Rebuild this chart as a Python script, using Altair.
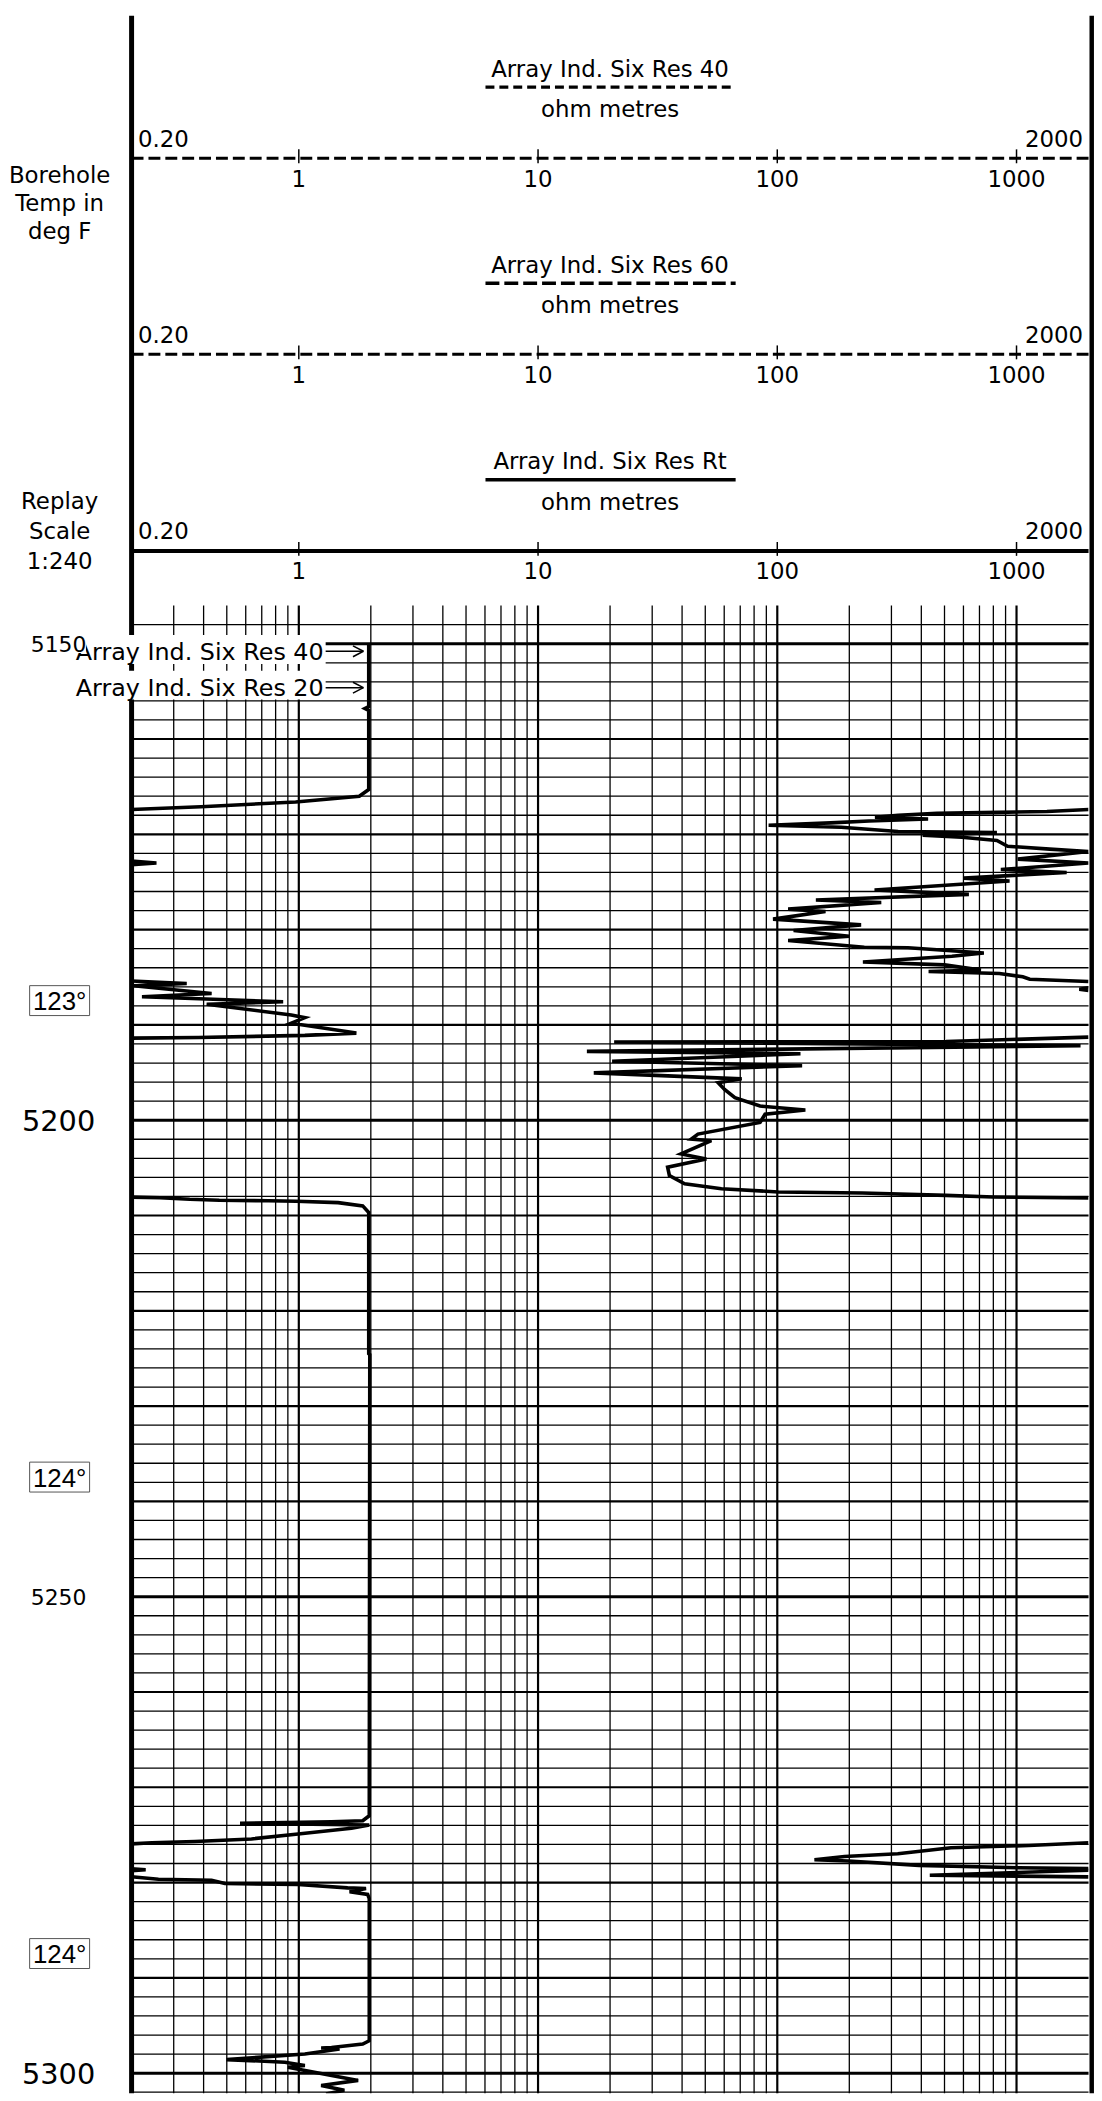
import altair as alt
import pandas as pd

FONT = "DejaVu Sans"

# ---------------- curve data: depth (ft) and resistivity (ohm m) as drawn on the 0.2-2000 track
L1_depth = [5150.0, 5156.6, 5156.8, 5157.0, 5165.3, 5166.0, 5166.6, 5167.1, 5167.4]
L1_ohm = [1.96, 1.96, 1.89, 1.96, 1.96, 1.79, 0.97, 0.39, 0.2]

R1_depth = [5167.4, 5167.6, 5167.7, 5167.8, 5168.0, 5168.2, 5168.4, 5168.6, 5168.8, 5169.05,
            5169.25, 5169.7, 5169.8, 5170.1, 5170.3, 5170.65, 5171.25, 5171.55, 5171.8, 5172.6,
            5173.0, 5173.7, 5174.0, 5174.6, 5174.9, 5175.85, 5176.3, 5176.9, 5177.15, 5177.85,
            5178.1, 5178.9, 5179.5, 5180.1, 5180.7, 5181.15, 5181.85, 5181.9, 5182.45, 5182.8,
            5183.4, 5183.7, 5184.25, 5184.4, 5184.6, 5184.95, 5185.2, 5185.45]
R1_ohm = [2000, 1340, 830, 465, 320, 256, 427, 242, 167, 92,
          185, 320, 828, 405, 590, 828, 918, 1376, 2000, 1012,
          2000, 860, 1620, 603, 935, 255, 632, 145, 272, 111,
          159, 96, 224, 117, 200, 111, 231, 352, 730, 537,
          228, 500, 710, 429, 848, 1062, 1136, 2000]

R1b_depth = [5186.1, 5186.25, 5186.4]
R1b_ohm = [2000, 1830, 2000]

L2_depth = [5172.8, 5173.0, 5173.2]
L2_ohm = [0.2, 0.254, 0.2]

L3_depth = [5185.4, 5185.66, 5185.9, 5186.7, 5187.05, 5187.57, 5187.84, 5188.96, 5189.24,
            5189.82, 5190.86, 5191.1, 5191.32, 5191.39]
L3_ohm = [0.2, 0.34, 0.204, 0.432, 0.221, 0.86, 0.412, 0.93, 1.06, 0.93, 1.74, 1.06, 0.38, 0.2]

R2_depth = [5191.28, 5191.74, 5191.8, 5192.19, 5192.78, 5193.02, 5193.82, 5194.27, 5195.03, 5195.66,
            5196.07, 5196.77, 5197.64, 5198.51, 5198.92, 5199.38, 5200.24, 5201.46, 5201.98, 5202.15,
            5203.54, 5204.06, 5204.93, 5205.8, 5206.67, 5207.19, 5207.53, 5207.64, 5207.89, 5208.05,
            5208.16]
R2_ohm = [2000, 507, 20.8, 1852, 16.0, 125, 20.4, 127, 17.1, 71,
          56.6, 60.2, 66.5, 84.7, 131, 88.9, 84.7, 46.6, 43.7, 53,
          39.6, 50.5, 34.8, 35.4, 41, 58.4, 101, 227, 507, 800,
          2000]

L4_depth = [5208.07, 5208.13, 5208.3, 5208.4, 5208.45, 5208.51, 5208.65, 5208.99, 5209.69, 5224.5,
            5224.6, 5272.99, 5273.51, 5273.61, 5273.78, 5273.96, 5274.3, 5274.9, 5275.42, 5275.7,
            5275.83, 5275.94]
L4_ohm = [0.2, 0.263, 0.35, 0.465, 0.746, 0.975, 1.46, 1.85, 1.96, 1.96,
          1.98, 1.97, 1.85, 1.37, 0.568, 1.97, 1.66, 0.993, 0.634, 0.368,
          0.243, 0.2]

R3_depth = [5275.83, 5276.11, 5276.35, 5276.98, 5277.26, 5277.6, 5277.74, 5278.2, 5278.44, 5278.54]
R3_ohm = [2000, 1125, 532, 319, 191, 143, 198, 391, 1017, 2000]

L5_depth = [5278.55, 5278.65, 5278.75]
L5_ohm = [0.2, 0.229, 0.2]

R4_depth = [5278.7, 5279.24, 5279.4]
R4_ohm = [2000, 434, 2000]

L6_depth = [5279.4, 5279.65, 5279.76, 5280.1, 5280.2, 5280.56, 5280.63, 5280.97, 5281.25, 5281.67,
            5296.6, 5296.95, 5297.3, 5297.36, 5297.47, 5297.99, 5298.58, 5298.85, 5299.2, 5299.38,
            5300.76, 5301.3, 5301.8, 5302.2]
L6_ohm = [0.2, 0.259, 0.432, 0.491, 0.993, 1.60, 1.91, 1.63, 1.94, 1.97,
          1.97, 1.85, 1.37, 1.24, 1.48, 1.06, 0.499, 0.874, 1.06, 0.90,
          1.77, 1.24, 1.55, 1.3]

segments = [("L1", L1_depth, L1_ohm), ("R1", R1_depth, R1_ohm), ("R1b", R1b_depth, R1b_ohm),
            ("L2", L2_depth, L2_ohm), ("L3", L3_depth, L3_ohm), ("R2", R2_depth, R2_ohm),
            ("L4", L4_depth, L4_ohm), ("R3", R3_depth, R3_ohm), ("L5", L5_depth, L5_ohm),
            ("R4", R4_depth, R4_ohm), ("L6", L6_depth, L6_ohm)]

# ---------------- grid / scale values
grid_minor = [0.3, 0.4, 0.5, 0.6, 0.7, 0.8, 0.9, 2, 3, 4, 5, 6, 7, 8, 9,
              20, 30, 40, 50, 60, 70, 80, 90, 200, 300, 400, 500, 600, 700, 800, 900]
grid_decade = [1, 10, 100, 1000]
grid_depths = list(range(5148, 5303, 2))
depth_labels_small = [5150, 5250]
depth_labels_big = [5200, 5300]
temp_depths = [5187.45, 5237.45, 5287.45]
temp_labels = ["123°", "124°", "124°"]
track_titles = ["Array Ind. Six Res 40", "Array Ind. Six Res 60", "Array Ind. Six Res Rt"]
tick_values = [1, 10, 100, 1000]
tick_texts = ["1", "10", "100", "1000"]

# ---------------- layout
W, H = 964, 2093
D_TOP, D_BOT, GRID_TOP = 5084.09, 5302.12, 5146.0
OFF = [0, 197.5, 395.5]

xs = alt.Scale(type="log", domain=[0.2, 2000], nice=False)
ys = alt.Scale(domain=[D_TOP, D_BOT], reverse=True, nice=False, zero=False)
one = pd.DataFrame({"k": [0]})

rows = []
for name, ds, vs in segments:
    for i, (d, v) in enumerate(zip(ds, vs)):
        rows.append({"seg": name, "ord": i, "depth": d, "ohm": v})
curve_df = pd.DataFrame(rows)

vgrid = pd.DataFrame({"ohm": grid_minor + grid_decade,
                      "w": [1.3] * len(grid_minor) + [2.2] * len(grid_decade)})
vgrid["top"] = GRID_TOP
vgrid["bot"] = D_BOT
hgrid = pd.DataFrame({"depth": grid_depths})
hgrid["w"] = [3.0 if d % 50 == 0 else (2.2 if d % 10 == 0 else 1.3) for d in grid_depths]
hgrid["x0"] = 0.2
hgrid["x1"] = 2000

layers = []
layers.append(alt.Chart(vgrid).mark_rule(color="black").encode(
    x=alt.X("ohm:Q", scale=xs, axis=None), y=alt.Y("top:Q", scale=ys, axis=None), y2="bot:Q",
    strokeWidth=alt.StrokeWidth("w:Q", scale=None, legend=None)))
layers.append(alt.Chart(hgrid).mark_rule(color="black").encode(
    x=alt.X("x0:Q", scale=xs, axis=None), x2="x1:Q", y=alt.Y("depth:Q", scale=ys, axis=None),
    strokeWidth=alt.StrokeWidth("w:Q", scale=None, legend=None)))
layers.append(alt.Chart(curve_df).mark_line(color="black", strokeWidth=3.6, clip=True).encode(
    x=alt.X("ohm:Q", scale=xs, axis=None), y=alt.Y("depth:Q", scale=ys, axis=None),
    detail="seg:N", order="ord:Q"))

# borders
layers.append(alt.Chart(one).mark_rule(color="black", strokeWidth=5).encode(
    x=alt.value(0), y=alt.value(0), y2=alt.value(H)))
layers.append(alt.Chart(one).mark_rule(color="black", strokeWidth=4.5).encode(
    x=alt.value(967.2), y=alt.value(0), y2=alt.value(H)))

# header
hc = []
for t, o in enumerate(OFF):
    hc.append({"label": track_titles[t], "tx": 482, "ty": 54.3 + o})
    hc.append({"label": "ohm metres", "tx": 482, "ty": 95 + o})
for lab, ty in [("Borehole", 161.1), ("Temp in", 190.1), ("deg F", 217.8),
                ("Replay", 490.1), ("Scale", 520.1), ("1:240", 550.1)]:
    hc.append({"label": lab, "tx": -72.5, "ty": ty})
hc = pd.DataFrame(hc)
layers.append(alt.Chart(hc).mark_text(font=FONT, fontSize=23, align="center", baseline="middle",
                                      color="black").encode(
    x=alt.X("tx:Q", scale=None), y=alt.Y("ty:Q", scale=None), text="label:N"))
hl = pd.DataFrame({"label": ["0.20"] * 3, "tx": [6.5] * 3, "ty": [125.2 + o for o in OFF]})
layers.append(alt.Chart(hl).mark_text(font=FONT, fontSize=23, align="left", baseline="middle",
                                      color="black").encode(
    x=alt.X("tx:Q", scale=None), y=alt.Y("ty:Q", scale=None), text="label:N"))
hr = pd.DataFrame({"label": ["2000"] * 3, "tx": [958.5] * 3, "ty": [125.2 + o for o in OFF]})
layers.append(alt.Chart(hr).mark_text(font=FONT, fontSize=23, align="right", baseline="middle",
                                      color="black").encode(
    x=alt.X("tx:Q", scale=None), y=alt.Y("ty:Q", scale=None), text="label:N"))

tk = []
for o in OFF:
    for v, s in zip(tick_values, tick_texts):
        tk.append({"ohm": v, "label": s, "ly": 165.5 + o, "t0": 143.7 + o - 9, "t1": 143.7 + o + 5})
tk = pd.DataFrame(tk)
layers.append(alt.Chart(tk).mark_rule(color="black", strokeWidth=1.5).encode(
    x=alt.X("ohm:Q", scale=xs, axis=None), y=alt.Y("t0:Q", scale=None), y2="t1:Q"))
layers.append(alt.Chart(tk).mark_text(font=FONT, fontSize=23, align="center", baseline="middle",
                                      color="black").encode(
    x=alt.X("ohm:Q", scale=xs, axis=None), y=alt.Y("ly:Q", scale=None), text="label:N"))

sample_dash = [[9, 5], [14, 5], None]
scale_dash = [[12, 5], [12, 5], None]
scale_w = [3, 3, 4]
for t, o in enumerate(OFF):
    kw = {"strokeDash": sample_dash[t]} if sample_dash[t] else {}
    layers.append(alt.Chart(one).mark_rule(color="black", strokeWidth=3.5, **kw).encode(
        x=alt.value(356.5), x2=alt.value(608.5), y=alt.value(72 + o)))
    kw = {"strokeDash": scale_dash[t]} if scale_dash[t] else {}
    layers.append(alt.Chart(one).mark_rule(color="black", strokeWidth=scale_w[t], **kw).encode(
        x=alt.value(0), x2=alt.value(W), y=alt.value(143.7 + o)))

# curve name labels with white boxes and arrows
boxes = pd.DataFrame({"x0": [-57.5, -57.5], "x1": [195.5, 195.5], "y0": [624, 660], "y1": [653, 689]})
layers.append(alt.Chart(boxes).mark_rect(color="white").encode(
    x=alt.X("x0:Q", scale=None), x2="x1:Q", y=alt.Y("y0:Q", scale=None), y2="y1:Q"))
cl = pd.DataFrame({"label": ["Array Ind. Six Res 40", "Array Ind. Six Res 20"],
                   "tx": [193.5, 193.5], "ty": [641.9, 678.3]})
layers.append(alt.Chart(cl).mark_text(font=FONT, fontSize=24, align="right", baseline="middle",
                                      color="black").encode(
    x=alt.X("tx:Q", scale=None), y=alt.Y("ty:Q", scale=None), text="label:N"))
ar = []
for yc in [640.3, 677.0]:
    ar.append({"x0": 195.5, "x1": 233.5, "y0": yc, "y1": yc})
    ar.append({"x0": 223.0, "x1": 233.5, "y0": yc - 5.5, "y1": yc})
    ar.append({"x0": 223.0, "x1": 233.5, "y0": yc + 5.5, "y1": yc})
ar = pd.DataFrame(ar)
layers.append(alt.Chart(ar).mark_rule(color="black", strokeWidth=1.5).encode(
    x=alt.X("x0:Q", scale=None), x2="x1:Q", y=alt.Y("y0:Q", scale=None), y2="y1:Q"))

# depth labels
cover = pd.DataFrame({"x0": [-103.5], "x1": [-46.0], "y0": [623], "y1": [642]})
layers.append(alt.Chart(cover).mark_rect(color="white").encode(
    x=alt.X("x0:Q", scale=None), x2="x1:Q", y=alt.Y("y0:Q", scale=None), y2="y1:Q"))
dls = pd.DataFrame({"depth": depth_labels_small, "label": [str(d) for d in depth_labels_small]})
layers.append(alt.Chart(dls).mark_text(font=FONT, fontSize=22, align="center", baseline="middle",
                                       dy=1, color="black").encode(
    x=alt.value(-73.5), y=alt.Y("depth:Q", scale=ys, axis=None), text="label:N"))
dlb = pd.DataFrame({"depth": depth_labels_big, "label": [str(d) for d in depth_labels_big]})
layers.append(alt.Chart(dlb).mark_text(font=FONT, fontSize=29, align="center", baseline="middle",
                                       dy=2, color="black").encode(
    x=alt.value(-73.5), y=alt.Y("depth:Q", scale=ys, axis=None), text="label:N"))

# temperature boxes
tb = pd.DataFrame({"depth": temp_depths, "label": temp_labels})
tb["d0"] = tb["depth"] - 1.57
tb["d1"] = tb["depth"] + 1.57
layers.append(alt.Chart(tb).mark_rect(fill="white", stroke="#555555", strokeWidth=1).encode(
    x=alt.value(-102.7), x2=alt.value(-42.3), y=alt.Y("d0:Q", scale=ys, axis=None), y2="d1:Q"))
layers.append(alt.Chart(tb).mark_text(font="Liberation Sans", fontSize=26, align="center",
                                      baseline="middle", dy=1.5, color="black").encode(
    x=alt.value(-72.5), y=alt.Y("depth:Q", scale=ys, axis=None), text="label:N"))

chart = alt.layer(*layers).properties(
    width=W, height=H,
    autosize=alt.AutoSizeParams(type="none"),
    padding={"left": 124.5, "top": 0, "right": 5.5, "bottom": 0},
    background="white",
).configure_view(stroke=None)

chart.save("out.html", embed_options={"renderer": "svg", "actions": False})
